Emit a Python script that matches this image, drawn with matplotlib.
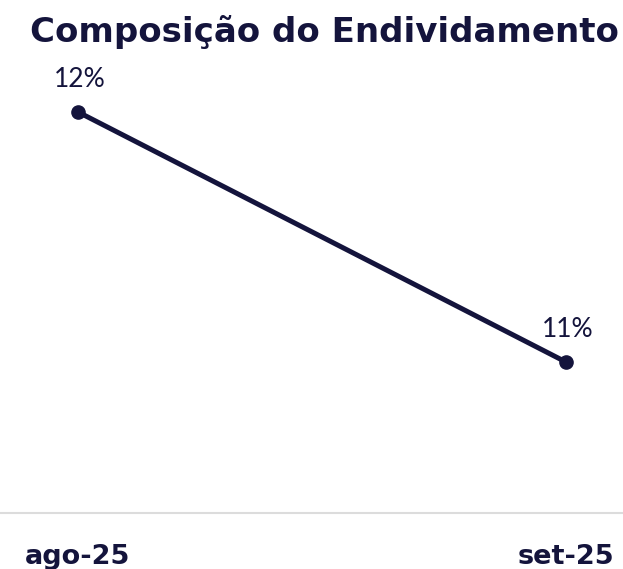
import matplotlib
matplotlib.use("Agg")
import matplotlib.pyplot as plt

# dados
meses = ["ago-25", "set-25"]
valores = [12, 11]
rotulos = ["12%", "11%"]

azul = "#14143c"

plt.rcParams['font.family'] = ['Lato', 'DejaVu Sans']

fig = plt.figure(figsize=(6.23, 5.69), dpi=100)
ax = fig.add_axes([0, 0.0984, 1, 0.761])

x = list(range(len(meses)))
ax.plot(x, valores, color=azul, linewidth=3.6, marker="o", markersize=9.5,
        solid_capstyle="round")

# rotulos de dados, centrados sobre os pontos
for xi, v, r in zip(x, valores, rotulos):
    ax.annotate(r, (xi, v), xytext=(1, 18), textcoords="offset points",
                ha="center", va="baseline", fontsize=19, color=azul)

# rotulos do eixo x
for xi, m in zip(x, meses):
    ax.annotate(m, (xi, 0), xycoords=("data", "axes fraction"),
                xytext=(0, -37), textcoords="offset points",
                ha="center", va="baseline", fontsize=19.5, fontweight="bold",
                color=azul, family="DejaVu Sans")

ax.set_xlim(-0.16, 1.117)
ax.set_ylim(10.396, 12.128)

for s in ["top", "right", "left"]:
    ax.spines[s].set_visible(False)
ax.spines["bottom"].set_color("#dcdcdc")
ax.spines["bottom"].set_linewidth(1.5)
ax.set_yticks([])
ax.set_xticks([])

fig.text(0.52, 1 - 42 / 569, "Composição do Endividamento", ha="center",
         va="baseline", fontsize=24.5, fontweight="bold", color=azul,
         family="DejaVu Sans")

fig.savefig("out.png", dpi=100)
